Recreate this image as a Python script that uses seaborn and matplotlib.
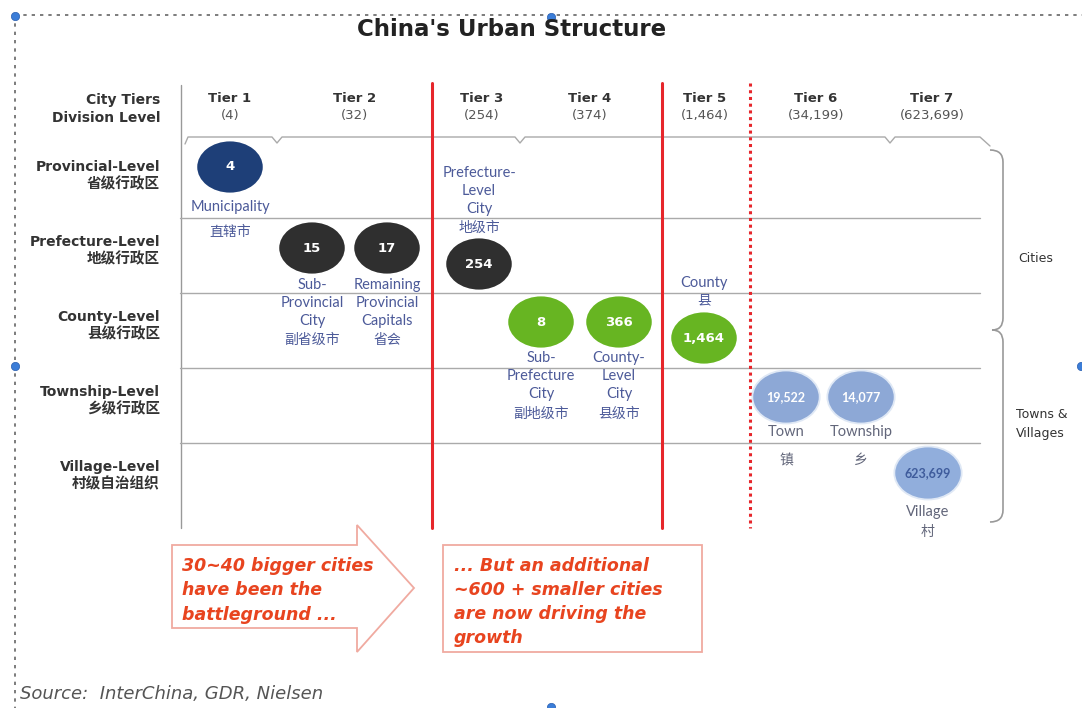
import numpy as np
import pandas as pd
import matplotlib
matplotlib.use("Agg")
import matplotlib.pyplot as plt
import seaborn as sns
from matplotlib.path import Path
from matplotlib.transforms import Affine2D
from matplotlib.patches import Polygon, Rectangle, PathPatch

# ---------------- data ----------------
tier_names = ["Tier 1", "Tier 2", "Tier 3", "Tier 4", "Tier 5", "Tier 6", "Tier 7"]
tier_counts = ["(4)", "(32)", "(254)", "(374)", "(1,464)", "(34,199)", "(623,699)"]

level_names = ["Provincial-Level", "Prefecture-Level", "County-Level", "Township-Level", "Village-Level"]
level_cn = ["省级行政区", "地级行政区", "县级行政区", "乡级行政区", "村级自治组织"]

unit_counts = ["4", "15", "17", "254", "8", "366", "1,464", "19,522", "14,077", "623,699"]
unit_tier = [1, 2, 2, 3, 4, 4, 5, 6, 6, 7]
unit_level = ["Provincial", "Prefecture", "Prefecture", "Prefecture", "County", "County",
              "County", "Township", "Township", "Village"]
unit_en = ["Municipality", "Sub-\nProvincial\nCity", "Remaining\nProvincial\nCapitals",
           "Prefecture-\nLevel\nCity", "Sub-\nPrefecture\nCity", "County-\nLevel\nCity",
           "County", "Town", "Township", "Village"]
unit_cn = ["直辖市", "副省级市", "省会", "地级市", "副地级市", "县级市", "县", "镇", "乡", "村"]

groups = ["Cities", "Towns &\nVillages"]
note_left = "30~40 bigger cities\nhave been the\nbattleground ..."
note_right = "... But an additional\n~600 + smaller cities\nare now driving the\ngrowth"
title = "China's Urban Structure"
source = "Source:  InterChina, GDR, Nielsen"

# ---------------- layout (pixel space) ----------------
W, H = 1082, 708
tier_x = [230, 355, 482, 590, 705, 816, 932]
level_y = [175, 250, 325, 400, 475]
bubble_x = [230, 312, 387, 479, 541, 619, 704, 786, 861, 928]
bubble_y = [167, 248, 248, 264, 322, 322, 338, 397, 397, 473]
en_y0 = [207, 285, 285, 173, 358, 358, 283, 432, 432, 512]
cn_y = [232, 340, 340, 228, 414, 414, 300, 460, 460, 532]
STEP = 18

palette = {"Provincial": "#1e3f78", "Prefecture": "#2f2f2f", "County": "#67b522",
           "Township": "#8da8d6", "Village": "#91aedc"}
LBL = "#4c5a99"
LBL_TV = "#62667a"
RED = "#e6262b"
NOTE = "#e8441f"

sns.set_theme(style="white")
plt.rcParams['font.family'] = ['DejaVu Sans', 'Noto Sans CJK SC']
LAB_FAM = ['Lato', 'Noto Sans CJK SC']

fig = plt.figure(figsize=(W / 100, H / 100), dpi=100)
ax = fig.add_axes([0, 0, 1, 1])

# bubbles
df = pd.DataFrame({"x": bubble_x, "y": bubble_y, "level": unit_level, "count": unit_counts})
ell = Affine2D().scale(1.27, 1.0).transform_path(Path.unit_circle())
edge = ["#dfe8f5" if lv in ("Township", "Village") else "white" for lv in unit_level]
sns.scatterplot(data=df, x="x", y="y", hue="level", palette=palette, marker=ell,
                s=2350, edgecolor=edge, linewidth=1.3, legend=False, ax=ax, zorder=3)
ax.set_xlim(0, W)
ax.set_ylim(H, 0)
ax.axis("off")

# border (dotted selection frame)
ax.plot([15, W], [15, 15], color="#666", lw=1.2, ls=(0, (2, 3)))
ax.plot([15, 15], [15, H], color="#666", lw=1.2, ls=(0, (2, 3)))
for (hx, hy) in [(15, 16), (551, 17), (15, 366), (551, 707), (1081, 366)]:
    ax.plot(hx, hy, "o", color="#3b7dd8", ms=6, mec="#2a5fb0", mew=0.5)

ax.text(512, 30, title, ha="center", va="center", fontsize=16.5, fontweight="heavy", color="#222")

# header labels
ax.text(160, 100, "City Tiers", ha="right", va="center", fontsize=10, fontweight="bold", color="#333")
ax.text(160, 118, "Division Level", ha="right", va="center", fontsize=10, fontweight="bold", color="#333")
for tx, tn, tc in zip(tier_x, tier_names, tier_counts):
    ax.text(tx, 98, tn, ha="center", va="center", fontsize=9.5, fontweight="bold", color="#333")
    ax.text(tx, 116, tc, ha="center", va="center", fontsize=9.5, color="#555")

# header bracket line with notches
xs = [185, 188]
ys = [144, 137]
for nx in [277, 520, 890]:
    xs += [nx - 5, nx, nx + 5]
    ys += [137, 143, 137]
xs += [980, 990]
ys += [137, 146]
ax.plot(xs, ys, color="#aaa", lw=1)

# grid
ax.plot([181, 181], [85, 528], color="#999", lw=1)
for yy in [218, 293, 368, 443]:
    ax.plot([180, 980], [yy, yy], color="#aaa", lw=1)

# row labels
for yy, ln, lc in zip(level_y, level_names, level_cn):
    ax.text(160, yy - 8, ln, ha="right", va="center", fontsize=10, fontweight="bold", color="#333")
    ax.text(160, yy + 9, lc, ha="right", va="center", fontsize=10.5, fontweight="bold", color="#333")

# tier dividers
ax.plot([432, 432], [83, 528], color=RED, lw=2.2)
ax.plot([662, 662], [83, 528], color=RED, lw=2.2)
ax.plot([750, 750], [83, 528], color=RED, lw=2.2, ls=(0, (1, 1.2)))

# right braces
def brace(y0, y1, xin, xout, pinch):
    verts = [(xin, y0), (xout, y0), (xout, y0 + 12), (xout, y1 - 12), (xout, y1), (pinch, y1)]
    codes = [Path.MOVETO, Path.CURVE3, Path.CURVE3, Path.LINETO, Path.CURVE3, Path.CURVE3]
    return PathPatch(Path(verts, codes), fill=False, ec="#999", lw=1.2)
ax.add_patch(brace(150, 330, 990, 1003, 992))
ax.add_patch(brace(330, 522, 992, 1003, 990))
ax.text(1018, 258, groups[0], ha="left", va="center", fontsize=9, color="#333")
ax.text(1016, 424, groups[1], ha="left", va="center", fontsize=9, color="#333", linespacing=1.5)

# bubble numbers
for bx, by, c in zip(bubble_x, bubble_y, unit_counts):
    if len(c) <= 5:
        ax.text(bx, by, c, ha="center", va="center", fontsize=9.5, fontweight="bold",
                color="white", zorder=4)
    else:
        col = "#3f5c9c" if len(c) > 6 else "white"
        ax.text(bx, by, c, ha="center", va="center", fontsize=9, fontweight="bold",
                color=col, zorder=4, family=LAB_FAM)

# bubble labels
for bx, y0, cy, en, cn, lv in zip(bubble_x, en_y0, cn_y, unit_en, unit_cn, unit_level):
    col = LBL_TV if lv in ("Township", "Village") else LBL
    for i, line in enumerate(en.split("\n")):
        ax.text(bx, y0 + i * STEP, line, ha="center", va="center", fontsize=10.5,
                color=col, family=LAB_FAM, zorder=4)
    ax.text(bx, cy, cn, ha="center", va="center", fontsize=10, color=col,
            family=['Noto Sans CJK SC'], zorder=4)

# bottom notes
arrow = Polygon([(172, 545), (357, 545), (357, 525), (414, 588), (357, 652),
                 (357, 628), (172, 628)], closed=True, fc="white", ec="#f0aaa0", lw=1.3)
ax.add_patch(arrow)
ax.add_patch(Rectangle((443, 545), 259, 107, fc="white", ec="#f0aaa0", lw=1.3))
ax.text(182, 557, note_left, ha="left", va="top", fontsize=12.5, fontweight="bold",
        style="italic", color=NOTE, linespacing=1.45)
ax.text(454, 557, note_right, ha="left", va="top", fontsize=12.5, fontweight="bold",
        style="italic", color=NOTE, linespacing=1.42)
ax.text(20, 694, source, ha="left", va="center", fontsize=13, style="italic", color="#555")

fig.savefig("out.png", dpi=100)
